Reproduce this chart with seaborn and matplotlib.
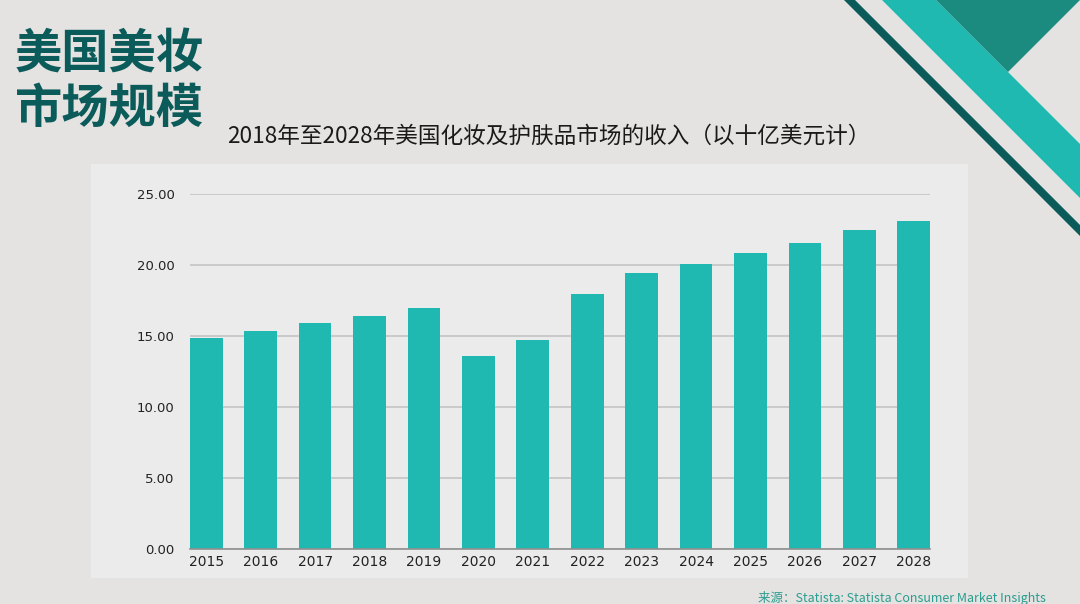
import matplotlib
matplotlib.use("Agg")
import matplotlib.pyplot as plt
import seaborn as sns
import pandas as pd
from matplotlib.patches import Polygon, Rectangle

# data (billion USD)
years = ["2015", "2016", "2017", "2018", "2019", "2020", "2021",
         "2022", "2023", "2024", "2025", "2026", "2027", "2028"]
revenue = [14.88, 15.37, 15.89, 16.43, 16.97, 13.59, 14.76,
           17.98, 19.41, 20.09, 20.82, 21.55, 22.46, 23.07]
y_ticks = [0, 5, 10, 15, 20, 25]

main_title = "美国美妆\n市场规模"
chart_title = "2018年至2028年美国化妆及护肤品市场的收入（以十亿美元计）"
source_text = "来源：Statista: Statista Consumer Market Insights"

BG = "#e4e3e1"
PANEL = "#ebebeb"
TEAL = "#20b9b1"
DARK = "#0b5b5a"
MID = "#1a8b7e"

sns.set_theme(style="white")
plt.rcParams["font.family"] = ["Noto Sans CJK SC", "DejaVu Sans"]

W, H = 1080, 604
fig = plt.figure(figsize=(W / 100, H / 100), dpi=100)
fig.patch.set_facecolor(BG)

# background decorations in pixel coords
deco = fig.add_axes([0, 0, 1, 1])
deco.set_xlim(0, W)
deco.set_ylim(H, 0)
deco.axis("off")
deco.add_patch(Rectangle((91, 164), 877, 414, facecolor=PANEL, edgecolor="none"))
deco.add_patch(Polygon([(844, 0), (855, 0), (1080, 225), (1080, 236)],
                       closed=True, facecolor=DARK, edgecolor="none"))
deco.add_patch(Polygon([(882, 0), (936, 0), (1080, 144), (1080, 198)],
                       closed=True, facecolor=TEAL, edgecolor="none"))
deco.add_patch(Polygon([(936, 0), (1080, 0), (1008, 72)],
                       closed=True, facecolor=MID, edgecolor="none"))

fig.text(15 / W, 1 - 31 / H, main_title, ha="left", va="top", fontsize=34,
         fontweight="bold", color=DARK, linespacing=1.15)
fig.text(549 / W, 1 - 136 / H, chart_title, ha="center", va="center",
         fontsize=16.3, color="#1a1a1a")
fig.text(758 / W, 1 - 598 / H, source_text, ha="left", va="center",
         fontsize=9, color="#2a9d90")

# bar chart
ax = fig.add_axes([190 / W, (H - 549.3) / H, 740 / W, 355.3 / H])
ax.patch.set_alpha(0)
df = pd.DataFrame({"year": years, "revenue": revenue})
sns.barplot(data=df, x="year", y="revenue", color=TEAL, saturation=1,
            width=0.6, ax=ax, zorder=3, edgecolor="none", linewidth=0)
ax.set_xlim(-0.3, len(years) - 0.7)
ax.set_ylim(0, 25)
ax.set_yticks(y_ticks)
ax.set_yticklabels([f"{v:.2f}" for v in y_ticks])
ax.yaxis.grid(True, color="#c4c4c4", linewidth=1.2, zorder=0)
ax.set_xlabel("")
ax.set_ylabel("")
for s in ["top", "right", "left"]:
    ax.spines[s].set_visible(False)
ax.spines["bottom"].set_color("#8f8f8f")
ax.spines["bottom"].set_linewidth(1.2)
ax.spines["bottom"].set_zorder(4)
ax.tick_params(axis="both", length=0, labelsize=10, labelcolor="#222222")
ax.tick_params(axis="y", labelsize=9.5, pad=11)
ax.tick_params(axis="x", pad=4)
for lab in ax.get_xticklabels() + ax.get_yticklabels():
    lab.set_family(["DejaVu Sans"])

fig.savefig("out.png", dpi=100, facecolor=BG)
